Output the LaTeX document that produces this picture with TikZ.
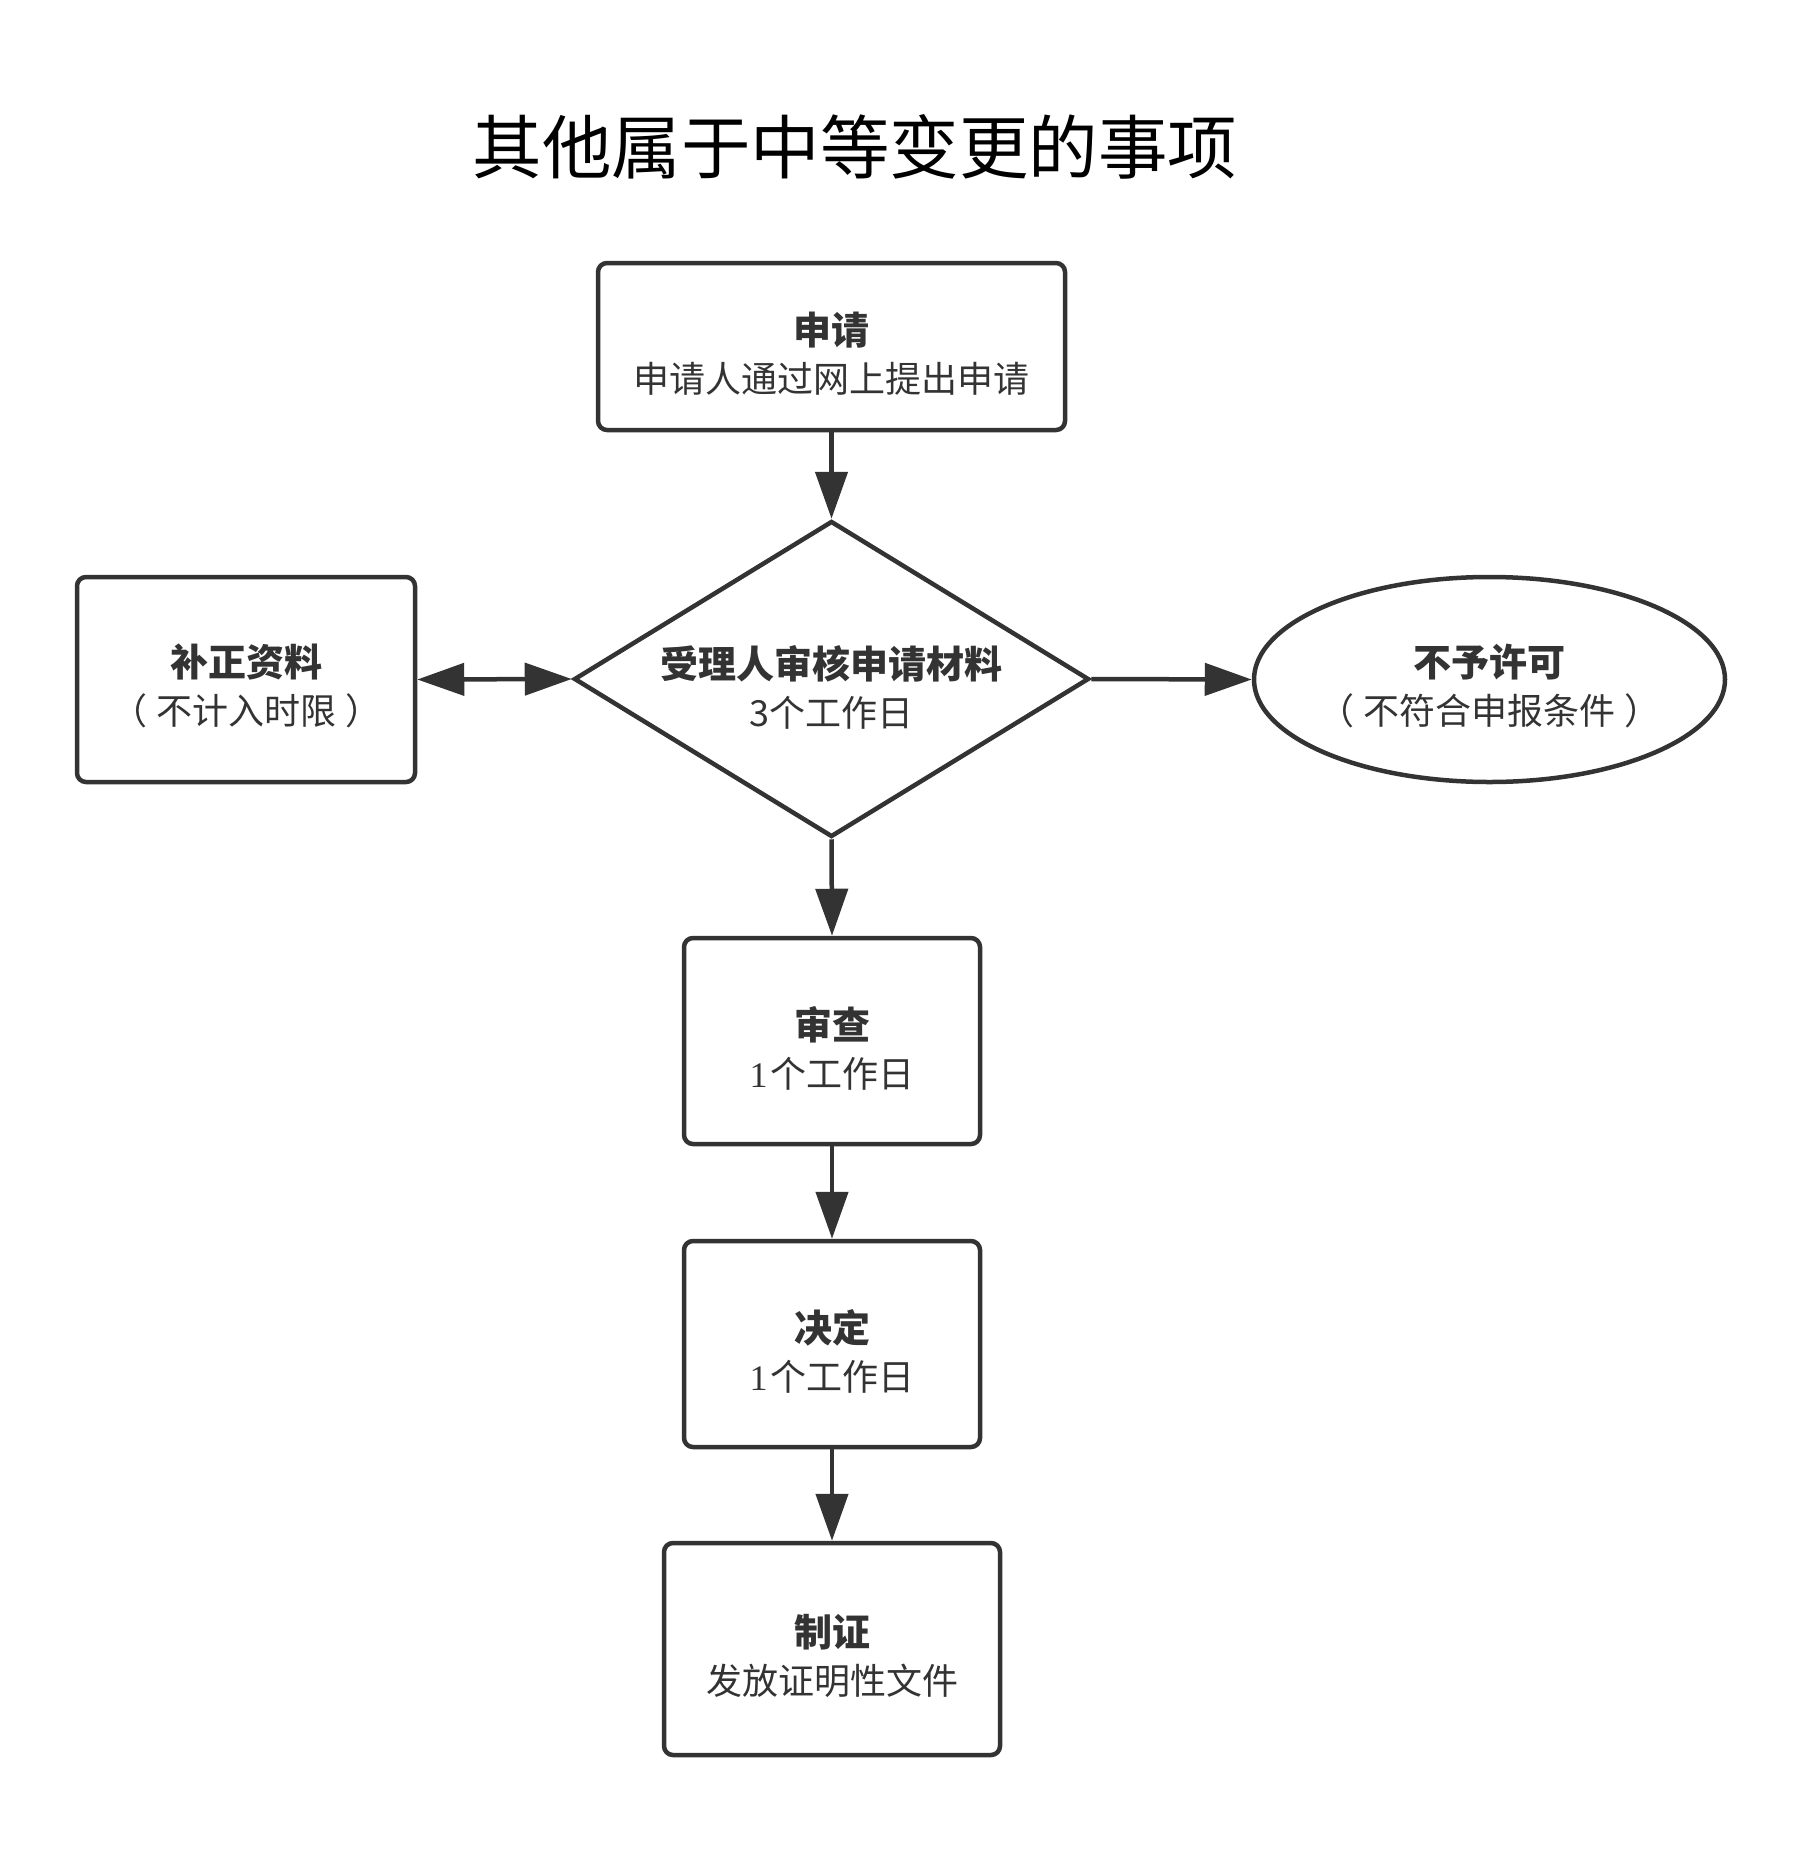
\documentclass[tikz,border=0pt]{standalone}
\usepackage{fontspec}
\setmainfont{Noto Sans CJK SC}
\newfontfamily\cjk{Noto Sans CJK SC}
\newfontfamily\numserif{Liberation Serif}
\usetikzlibrary{shapes.geometric,arrows.meta}
\definecolor{ink}{HTML}{333333}
\newcommand{\headtxt}[1]{{\fontsize{38}{48}\selectfont\bfseries #1}}
\begin{document}
\begin{tikzpicture}[x=1pt,y=-1pt,
  every node/.style={text=ink},
  boxstyle/.style={draw=ink, line width=4.5pt, rounded corners=9pt, inner sep=0pt},
  diastyle/.style={draw=ink, line width=4.5pt, diamond, shape aspect=1.62, inner sep=0pt,
    minimum width=515pt, minimum height=316pt},
  ovalstyle/.style={draw=ink, line width=4.5pt, ellipse, inner sep=0pt,
    minimum width=471pt, minimum height=205pt},
  txt/.style={align=center, inner sep=0pt, font=\cjk\fontsize{36}{48}\selectfont},
  conn/.style={draw=ink, line width=4.5pt, -{Triangle[length=47pt,width=32pt]}},
  dconn/.style={draw=ink, line width=4.5pt, {Triangle[length=47pt,width=32pt]}-{Triangle[length=47pt,width=32pt]}}
]
\useasboundingbox (0,0) rectangle (1803,1857);
\fill[white] (0,0) rectangle (1803,1857);

\node[font=\cjk\fontsize{69.5}{76}\selectfont, text=black] (title) at (855,147) {其他属于中等变更的事项};

\node[boxstyle, minimum width=467pt, minimum height=167pt] (shen) at (831.5,346.5) {};
\node[txt] (shentext) at (831.5,354) {\headtxt{申请}\\申请人通过网上提出申请};
\node[diastyle] (dia) at (831.5,679) {};
\node[txt] (diatext) at (831.5,687) {\headtxt{受理人审核申请材料}\\3个工作日};
\node[boxstyle, minimum width=338pt, minimum height=205pt] (bz) at (246,679.5) {};
\node[txt] (bztext) at (246,686) {\headtxt{补正资料}\\（\hspace{9pt}不计入时限\hspace{9pt}）};
\node[ovalstyle] (by) at (1489.5,679.5) {};
\node[txt] (bytext) at (1489.5,686) {\headtxt{不予许可}\\（\hspace{9pt}不符合申报条件\hspace{9pt}）};
\node[boxstyle, minimum width=296pt, minimum height=206pt] (sc) at (832,1041) {};
\node[txt] (sctext) at (832,1048) {\headtxt{审查}\\{\numserif 1}\hspace{3pt}个工作日};
\node[boxstyle, minimum width=296pt, minimum height=206pt] (jd) at (832,1344) {};
\node[txt] (jdtext) at (832,1351) {\headtxt{决定}\\{\numserif 1}\hspace{3pt}个工作日};
\node[boxstyle, minimum width=336pt, minimum height=212pt] (zz) at (832,1649) {};
\node[txt] (zztext) at (832,1656) {\headtxt{制证}\\发放证明性文件};

\draw[conn] (shen.south) -- (dia.north);
\draw[dconn] (bz.east) -- (dia.west);
\draw[conn] (dia.east) -- (by.west);
\draw[conn] (dia.south) -- (sc.north);
\draw[conn] (sc.south) -- (jd.north);
\draw[conn] (jd.south) -- (zz.north);
\end{tikzpicture}
\end{document}
